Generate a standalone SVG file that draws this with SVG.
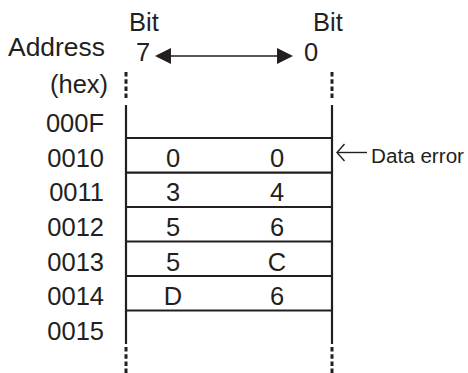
<svg xmlns="http://www.w3.org/2000/svg" width="468" height="373" viewBox="0 0 468 373">
<style>
text{font-family:"Liberation Sans",Arial,sans-serif;fill:#231f20}
.t{font-size:25.5px}
.a{font-size:25.5px;text-anchor:end}
.s{font-size:20px}
.v{font-size:25.5px;text-anchor:middle}
.ln{stroke:#231f20;stroke-width:2.2;fill:none}
.dl{stroke:#231f20;stroke-width:3;fill:none;stroke-dasharray:4.5 2.7}
.hd{fill:#231f20;stroke:none}
</style>
<g id="labels">
<text class="t" x="8" y="56" textLength="97" lengthAdjust="spacingAndGlyphs">Address</text>
<text class="t" x="50" y="93">(hex)</text>
<text class="t" x="129" y="31">Bit</text>
<text class="t" x="313" y="31">Bit</text>
<text class="t" x="136" y="61">7</text>
<text class="t" x="304" y="61">0</text>
</g>
<g id="addresses">
<text class="a" x="104" y="132">000F</text>
<text class="a" x="104" y="166.7">0010</text>
<text class="a" x="104" y="201.3">0011</text>
<text class="a" x="104" y="236">0012</text>
<text class="a" x="104" y="270.6">0013</text>
<text class="a" x="104" y="305.2">0014</text>
<text class="a" x="104" y="339.8">0015</text>
</g>
<g id="memory">
<path class="ln" d="M126,105 V344 M332,105 V344"/>
<path class="dl" d="M126,72 V99 M332,72 V99 M126,347 V373 M332,347 V373"/>
<path class="ln" d="M126,138 H332 M126,172.7 H332 M126,207 H332 M126,241.5 H332 M126,276 H332 M126,310.5 H332"/>
</g>
<g id="values">
<text class="v" x="173" y="166.7">0</text><text class="v" x="277" y="166.7">0</text>
<text class="v" x="173" y="201.3">3</text><text class="v" x="277" y="201.3">4</text>
<text class="v" x="173" y="236">5</text><text class="v" x="277" y="236">6</text>
<text class="v" x="173" y="270.6">5</text><text class="v" x="277" y="270.6">C</text>
<text class="v" x="173" y="305.2">D</text><text class="v" x="277" y="305.2">6</text>
</g>
<g id="connectors">
<line x1="168" y1="56" x2="280" y2="56" stroke="#231f20" stroke-width="1.5"/>
<polygon class="hd" points="155,56 171,48 171,64"/>
<polygon class="hd" points="293,56 277,48 277,64"/>
<line x1="337" y1="152.5" x2="367" y2="152.5" stroke="#231f20" stroke-width="1.4"/>
<polyline points="344.5,144 337,152.5 344.5,161" fill="none" stroke="#231f20" stroke-width="1.4"/>
</g>
<g id="data-error">
<text class="s" x="371" y="163" textLength="93" lengthAdjust="spacingAndGlyphs">Data error</text>
</g>
</svg>
